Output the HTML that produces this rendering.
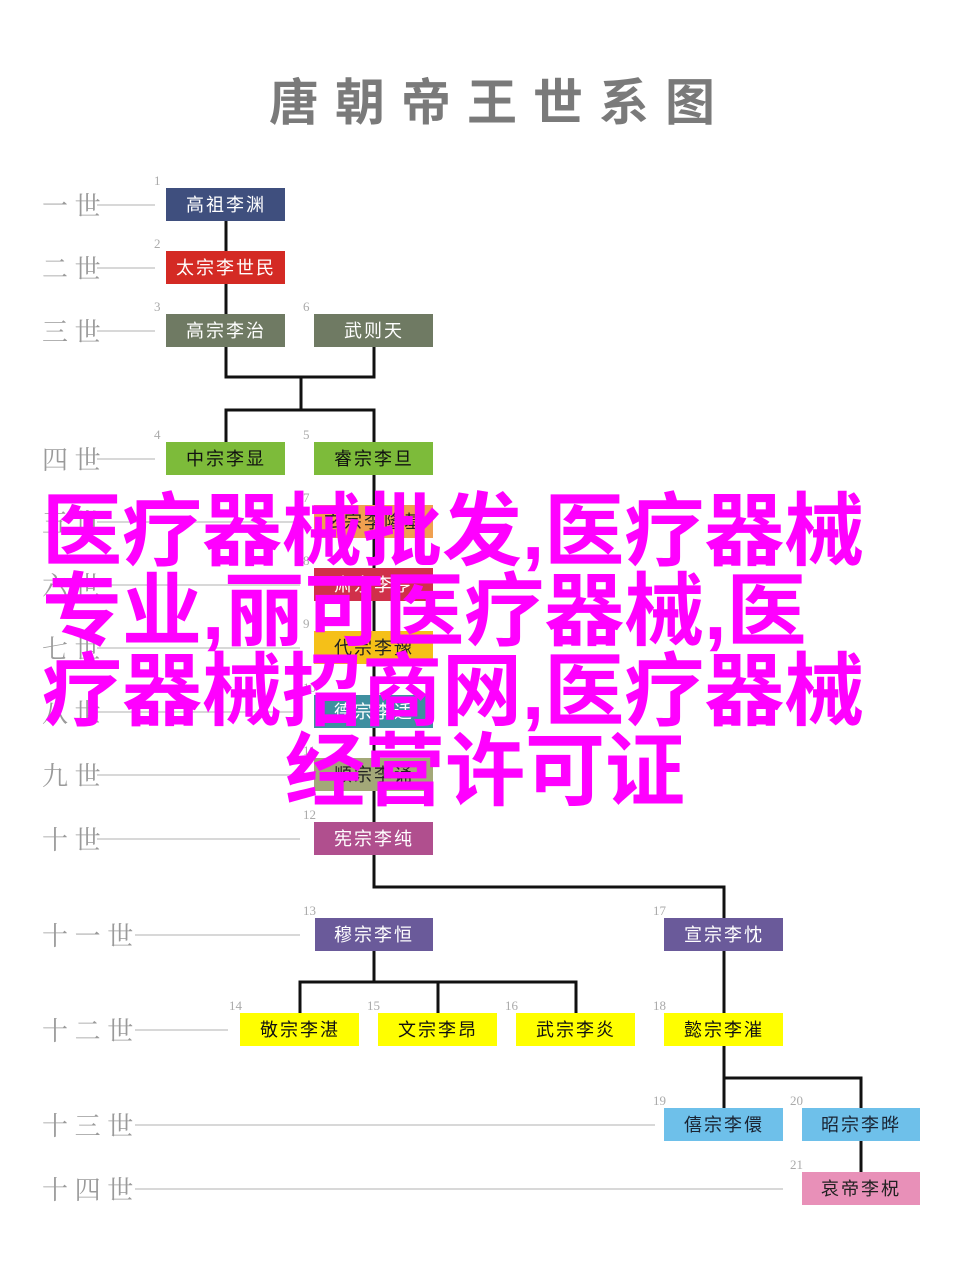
<!DOCTYPE html>
<html><head><meta charset="utf-8"><style>
html,body{margin:0;padding:0;background:#fff;}
body{width:960px;height:1279px;position:relative;overflow:hidden;}
svg{position:absolute;left:0;top:0;}
.ov{position:absolute;left:0;white-space:nowrap;color:#f0f;font-family:"Liberation Sans","Noto Sans CJK SC",sans-serif;font-weight:bold;font-size:80px;line-height:80px;}
</style></head><body>
<svg width="960" height="1279" viewBox="0 0 960 1279" font-family="Liberation Sans, Noto Sans CJK SC, sans-serif">
<text x="500" y="120" text-anchor="middle" font-family="Noto Sans CJK SC, sans-serif" font-weight="bold" font-size="50" fill="#7a7a7a" letter-spacing="16">唐朝帝王世系图</text>
<g stroke="#d8d8d8" stroke-width="2">
<line x1="97" y1="205" x2="155" y2="205"/><line x1="97" y1="268" x2="155" y2="268"/><line x1="97" y1="331" x2="155" y2="331"/>
<line x1="97" y1="459" x2="155" y2="459"/><line x1="97" y1="522" x2="300" y2="522"/><line x1="97" y1="585" x2="300" y2="585"/>
<line x1="97" y1="648" x2="300" y2="648"/><line x1="97" y1="712" x2="300" y2="712"/><line x1="97" y1="775" x2="300" y2="775"/>
<line x1="97" y1="839" x2="300" y2="839"/><line x1="135" y1="935" x2="300" y2="935"/><line x1="135" y1="1030" x2="228" y2="1030"/>
<line x1="135" y1="1125" x2="655" y2="1125"/><line x1="135" y1="1189" x2="783" y2="1189"/>
</g>
<g font-size="26" fill="#9a9a9a" font-family="Noto Serif CJK SC, serif">
<text x="42" y="215">一 世</text><text x="42" y="278">二 世</text><text x="42" y="341">三 世</text>
<text x="42" y="469">四 世</text><text x="42" y="532">五 世</text><text x="42" y="595">六 世</text>
<text x="42" y="658">七 世</text><text x="42" y="722">八 世</text><text x="42" y="785">九 世</text>
<text x="42" y="849">十 世</text><text x="42" y="945">十 一 世</text><text x="42" y="1040">十 二 世</text>
<text x="42" y="1135">十 三 世</text><text x="42" y="1199">十 四 世</text>
</g>
<g stroke="#111" stroke-width="3" fill="none">
<path d="M226 205V331"/><path d="M226 331V377H374V331"/><path d="M301 377V410"/><path d="M226 459V410H374V839"/>
<path d="M374 839V887H724V935"/><path d="M374 935V982"/><path d="M300 1030V982H576V1030"/><path d="M438 982V1030"/>
<path d="M724 935V1078"/><path d="M724 1125V1078H861V1189"/>
</g>
<g font-size="13" fill="#aaa" font-family="Liberation Serif, serif">
<text x="154" y="185">1</text><text x="154" y="248">2</text><text x="154" y="311">3</text><text x="303" y="311">6</text>
<text x="154" y="439">4</text><text x="303" y="439">5</text><text x="303" y="502">7</text><text x="303" y="565">8</text>
<text x="303" y="628">9</text><text x="303" y="692">10</text><text x="303" y="755">11</text><text x="303" y="819">12</text>
<text x="303" y="915">13</text><text x="653" y="915">17</text><text x="229" y="1010">14</text><text x="367" y="1010">15</text>
<text x="505" y="1010">16</text><text x="653" y="1010">18</text><text x="653" y="1105">19</text><text x="790" y="1105">20</text><text x="790" y="1169">21</text>
</g>
<g font-size="18" text-anchor="middle" letter-spacing="2">
<rect x="166" y="188" width="119" height="33" fill="#3f4f7e"/><text x="226" y="211" fill="#fff">高祖李渊</text>
<rect x="166" y="251" width="119" height="33" fill="#d42a24"/><text x="226" y="274" fill="#fff">太宗李世民</text>
<rect x="166" y="314" width="119" height="33" fill="#6f7a63"/><text x="226" y="337" fill="#fff">高宗李治</text>
<rect x="314" y="314" width="119" height="33" fill="#6f7a63"/><text x="374" y="337" fill="#fff">武则天</text>
<rect x="166" y="442" width="119" height="33" fill="#7dbb3a"/><text x="226" y="465" fill="#111">中宗李显</text>
<rect x="314" y="442" width="119" height="33" fill="#7dbb3a"/><text x="374" y="465" fill="#111">睿宗李旦</text>
<rect x="314" y="505" width="119" height="33" fill="#f0a050"/><text x="374" y="528" fill="#222">玄宗李隆基</text>
<rect x="314" y="568" width="119" height="33" fill="#d0304a"/><text x="374" y="591" fill="#fff">肃宗李亨</text>
<rect x="314" y="631" width="119" height="33" fill="#f5c018"/><text x="374" y="654" fill="#222">代宗李豫</text>
<rect x="314" y="695" width="119" height="33" fill="#3f8fa0"/><text x="374" y="718" fill="#fff">德宗李适</text>
<rect x="314" y="758" width="119" height="33" fill="#a3a878"/><text x="374" y="781" fill="#222">顺宗李诵</text>
<rect x="314" y="822" width="119" height="33" fill="#b04f8e"/><text x="374" y="845" fill="#fff">宪宗李纯</text>
<rect x="315" y="918" width="118" height="33" fill="#6a5a9a"/><text x="374" y="941" fill="#fff">穆宗李恒</text>
<rect x="664" y="918" width="119" height="33" fill="#6a5a9a"/><text x="724" y="941" fill="#fff">宣宗李忱</text>
<rect x="240" y="1013" width="119" height="33" fill="#ffff00"/><text x="300" y="1036" fill="#111">敬宗李湛</text>
<rect x="378" y="1013" width="119" height="33" fill="#ffff00"/><text x="438" y="1036" fill="#111">文宗李昂</text>
<rect x="516" y="1013" width="119" height="33" fill="#ffff00"/><text x="576" y="1036" fill="#111">武宗李炎</text>
<rect x="664" y="1013" width="119" height="33" fill="#ffff00"/><text x="724" y="1036" fill="#111">懿宗李漼</text>
<rect x="664" y="1108" width="119" height="33" fill="#6ec0ea"/><text x="724" y="1131" fill="#1a2433">僖宗李儇</text>
<rect x="802" y="1108" width="118" height="33" fill="#6ec0ea"/><text x="861" y="1131" fill="#1a2433">昭宗李晔</text>
<rect x="802" y="1172" width="118" height="33" fill="#e890b8"/><text x="861" y="1195" fill="#222">哀帝李柷</text>
</g>
</svg>
<div class="ov" style="left:42px;top:492px;">医疗器械批发,医疗器械</div>
<div class="ov" style="left:42px;top:572px;">专业,丽可医疗器械,医</div>
<div class="ov" style="left:42px;top:652px;">疗器械招商网,医疗器械</div>
<div class="ov" style="left:285px;top:732px;">经营许可证</div>
</body></html>
